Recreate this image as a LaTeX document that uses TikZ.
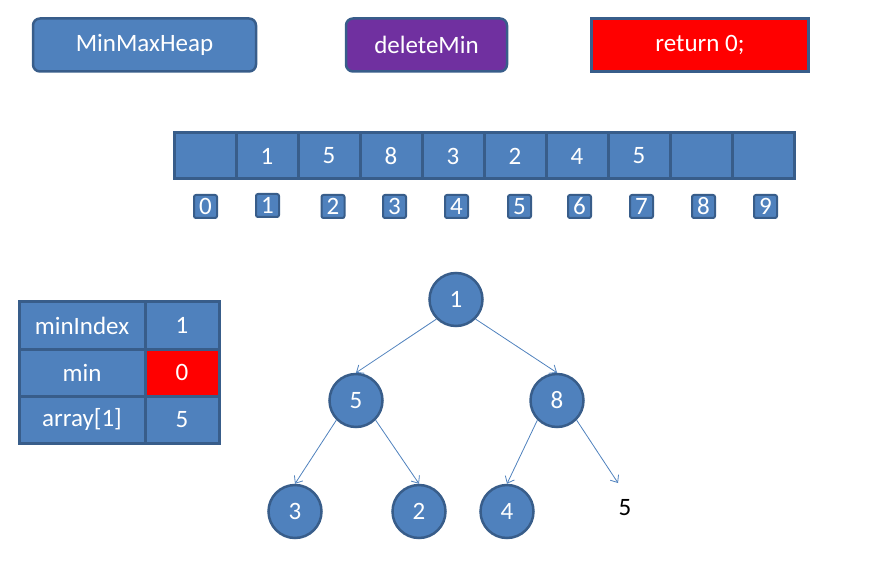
\documentclass[tikz,border=0pt]{standalone}
\usepackage{fontspec}
\setmainfont{Carlito}
\usetikzlibrary{arrows.meta}
\definecolor{boxblue}{RGB}{79,129,189}
\definecolor{edgeblue}{RGB}{56,93,138}
\definecolor{funcpurple}{RGB}{112,48,160}
\tikzset{
    bigfont/.style={font=\fontsize{25}{29}\selectfont},
    titlebox/.style={bigfont, draw=edgeblue, line width=2.5pt, fill=boxblue, text=white,
        rounded corners=7pt, minimum height=53pt, inner sep=0pt},
    cell/.style={bigfont, draw=edgeblue, line width=3pt, fill=boxblue, text=white,
        minimum width=62pt, minimum height=46pt, inner sep=0pt},
    idxbox/.style={bigfont, draw=edgeblue, line width=2pt, fill=boxblue, text=white,
        rounded corners=2pt, minimum size=23pt, inner sep=0pt},
    tcell/.style={bigfont, draw=edgeblue, line width=3pt, fill=boxblue, text=white,
        minimum height=47pt, inner sep=0pt},
    heapnode/.style={bigfont, circle, draw=edgeblue, line width=2.5pt, fill=boxblue,
        text=white, minimum size=53pt, inner sep=0pt},
    link/.style={boxblue, line width=0.8pt, -{Straight Barb[length=6pt,width=10pt]}}
}
\begin{document}
\begin{tikzpicture}[x=1pt,y=-1pt]
    \useasboundingbox (0,0) rectangle (870,569);
    % top boxes
    \node[titlebox, minimum width=223pt] (heap) at (144.5,45) {MinMaxHeap};
    \node[titlebox, minimum width=161pt, fill=funcpurple] (func) at (426.5,45) {deleteMin};
    \node[titlebox, minimum width=217pt, fill=red, rounded corners=0pt] (ret) at (700,45) {return 0;};
    % array
    \node[cell] (a0) at (205,156) {};
    \node[cell] (a1) at (267,156) {1};
    \node[cell] (a2) at (329,156) {5};
    \node[cell] (a3) at (391,156) {8};
    \node[cell] (a4) at (453,156) {3};
    \node[cell] (a5) at (515,156) {2};
    \node[cell] (a6) at (577,156) {4};
    \node[cell] (a7) at (639,156) {5};
    \node[cell] (a8) at (701,156) {};
    \node[cell] (a9) at (763,156) {};
    \node[idxbox] (i0) at (205.5,206.5) {0};
    \node[idxbox] (i1) at (267.5,205.5) {1};
    \node[idxbox] (i2) at (333,206.5) {2};
    \node[idxbox] (i3) at (394.5,206.5) {3};
    \node[idxbox] (i4) at (456.5,206.5) {4};
    \node[idxbox] (i5) at (519.5,206.5) {5};
    \node[idxbox] (i6) at (579.5,206.5) {6};
    \node[idxbox] (i7) at (641.5,206.5) {7};
    \node[idxbox] (i8) at (703.5,206.5) {8};
    \node[idxbox] (i9) at (765.5,206.5) {9};
    % variables
    \node[tcell, minimum width=126pt] (minidx) at (82,325.5) {minIndex};
    \node[tcell, minimum width=74pt] (minidxval) at (182,325.5) {1};
    \node[tcell, minimum width=126pt] (minname) at (82,372.5) {min};
    \node[tcell, minimum width=74pt, fill=red] (minval) at (182,372.5) {0};
    \node[tcell, minimum width=126pt] (arr) at (82,419.5) {array[1]};
    \node[tcell, minimum width=74pt] (arrval) at (182,419.5) {5};
    % tree
    \node[heapnode] (n1) at (456,299.5) {1};
    \node[heapnode] (n5) at (356,400.5) {5};
    \node[heapnode] (n8) at (557,400.5) {8};
    \node[heapnode] (n3) at (295,511.5) {3};
    \node[heapnode] (n2) at (419,511.5) {2};
    \node[heapnode] (n4) at (507,511.5) {4};
    \node[bigfont] (leaf) at (625,508) {5};
    \coordinate (leaftip) at (618,483);
    \draw[link] (n1.south west) -- (n5.north);
    \draw[link] (n1.south east) -- (n8.north);
    \draw[link] (n5.south west) -- (n3.north);
    \draw[link] (n5.south east) -- (n2.north);
    \draw[link] (n8.south west) -- (n4.north);
    \draw[link] (n8.south east) -- (leaftip);
\end{tikzpicture}
\end{document}
